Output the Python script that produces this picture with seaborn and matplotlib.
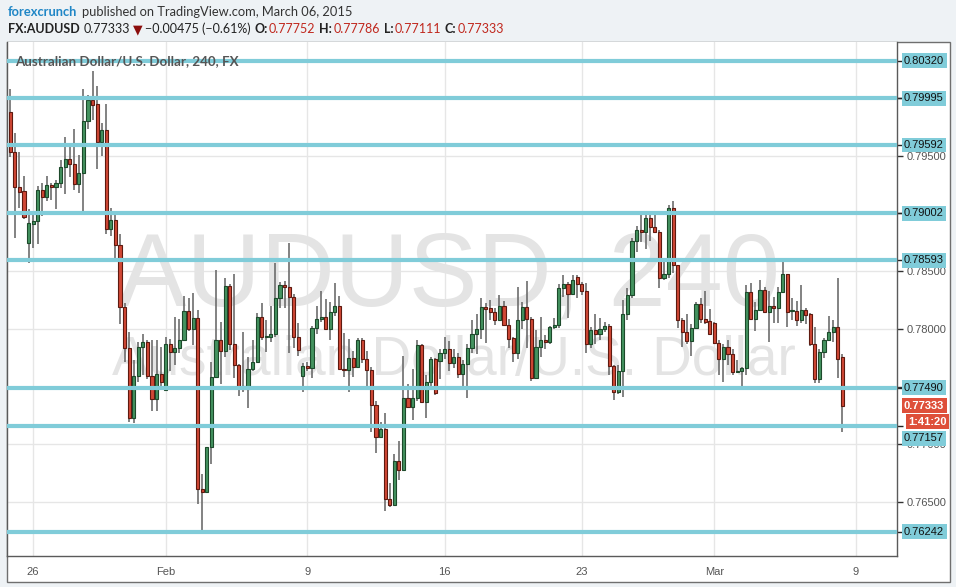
import matplotlib
matplotlib.use("Agg")
import numpy as np
import pandas as pd
import seaborn as sns
import matplotlib.pyplot as plt
from matplotlib.patches import Rectangle
from matplotlib.transforms import blended_transform_factory

# AUDUSD 4h candles, 23 Jan - 6 Mar 2015
opens = [
    0.79879, 0.79532, 0.79229, 0.79194, 0.78744, 0.78908, 0.78934, 0.79203, 0.79142, 0.79247,
    0.79229, 0.79264, 0.79402, 0.79471, 0.79428, 0.79255, 0.79350, 0.79800, 0.79982, 0.79947,
    0.79619, 0.79723, 0.78865, 0.78943, 0.78727, 0.78190, 0.77835, 0.77230, 0.77593, 0.77843,
    0.77887, 0.77593, 0.77394, 0.77610, 0.77472, 0.77869, 0.77801, 0.77835, 0.77904, 0.78155,
    0.78000, 0.78095, 0.76615, 0.76589, 0.76978, 0.77584, 0.77904, 0.77809, 0.78372, 0.77869,
    0.77688, 0.77506, 0.77480, 0.77653, 0.77714, 0.78103, 0.77930, 0.77930, 0.77956, 0.78268,
    0.78381, 0.78363, 0.78276, 0.77930, 0.77593, 0.77679, 0.77662, 0.78009, 0.78086, 0.78103,
    0.78000, 0.78147, 0.78199, 0.77653, 0.77645, 0.77749, 0.77670, 0.77904, 0.77740, 0.77645,
    0.77342, 0.77064, 0.77134, 0.76528, 0.76476, 0.76857, 0.76779, 0.77403, 0.77324, 0.77403,
    0.77861, 0.77368, 0.77541, 0.77740, 0.77722, 0.77792, 0.77826, 0.77705, 0.77757, 0.77610,
    0.77696, 0.77835, 0.77956, 0.78000, 0.78190, 0.78182, 0.78147, 0.78078, 0.78199, 0.78035,
    0.77922, 0.77792, 0.78078, 0.78190, 0.78086, 0.77576, 0.77843, 0.77904, 0.77887, 0.78017,
    0.78035, 0.78355, 0.78389, 0.78302, 0.78449, 0.78389, 0.78328, 0.77869, 0.77991, 0.77956,
    0.78000, 0.78026, 0.77679, 0.77455, 0.77636, 0.78129, 0.78294, 0.78761, 0.78857, 0.78839,
    0.78961, 0.78882, 0.78839, 0.78441, 0.78475, 0.79047, 0.78554, 0.78078, 0.77974, 0.77895,
    0.78009, 0.78216, 0.78086, 0.78069, 0.78052, 0.77878, 0.77740, 0.77843, 0.77783, 0.77628,
    0.77636, 0.77662, 0.78320, 0.78086, 0.78164, 0.78337, 0.78147, 0.78199, 0.78182, 0.78320,
    0.78475, 0.78155, 0.78155, 0.78078, 0.78164, 0.78129, 0.77869, 0.77567, 0.77801, 0.77904,
    0.77974, 0.78017, 0.77752,
]
highs = [
    0.80078, 0.79697, 0.79532, 0.79324, 0.79038, 0.79021, 0.79238, 0.79264, 0.79324, 0.79264,
    0.79290, 0.79463, 0.79662, 0.79593, 0.79731, 0.79506, 0.80078, 0.80026, 0.80233, 0.80103,
    0.79783, 0.79947, 0.79047, 0.79013, 0.78822, 0.78225, 0.77974, 0.77731, 0.77887, 0.77956,
    0.77904, 0.77904, 0.77904, 0.77843, 0.77930, 0.77913, 0.78103, 0.78086, 0.78285, 0.78268,
    0.78311, 0.78164, 0.76744, 0.76978, 0.77714, 0.78510, 0.78061, 0.78441, 0.78389, 0.78475,
    0.77696, 0.77974, 0.77757, 0.77904, 0.78138, 0.78225, 0.78078, 0.78199, 0.78571, 0.78407,
    0.78415, 0.78744, 0.78302, 0.78052, 0.77705, 0.77714, 0.78026, 0.78199, 0.78328, 0.78259,
    0.78234, 0.78398, 0.78285, 0.77965, 0.77913, 0.77809, 0.77922, 0.77922, 0.77809, 0.77670,
    0.77376, 0.77195, 0.77273, 0.76667, 0.76917, 0.77030, 0.77766, 0.77523, 0.77653, 0.77904,
    0.77869, 0.77602, 0.77757, 0.77749, 0.77826, 0.77930, 0.77895, 0.77826, 0.77792, 0.77731,
    0.77869, 0.78078, 0.78129, 0.78268, 0.78225, 0.78251, 0.78182, 0.78294, 0.78242, 0.78086,
    0.77930, 0.78363, 0.78234, 0.78415, 0.78103, 0.77991, 0.78103, 0.77948, 0.78026, 0.78095,
    0.78389, 0.78467, 0.78407, 0.78467, 0.78467, 0.78407, 0.78398, 0.78017, 0.78129, 0.78095,
    0.78061, 0.78043, 0.77688, 0.77688, 0.78251, 0.78355, 0.78787, 0.78891, 0.78995, 0.78995,
    0.78995, 0.78987, 0.78857, 0.78588, 0.79073, 0.79107, 0.78554, 0.78095, 0.78129, 0.78043,
    0.78234, 0.78268, 0.78328, 0.78173, 0.78061, 0.77904, 0.77869, 0.77904, 0.77826, 0.77731,
    0.77670, 0.78381, 0.78398, 0.78234, 0.78424, 0.78363, 0.78328, 0.78276, 0.78363, 0.78588,
    0.78475, 0.78268, 0.78242, 0.78381, 0.78182, 0.78138, 0.78017, 0.77826, 0.77922, 0.78112,
    0.78078, 0.78441, 0.77786,
]
lows = [
    0.79488, 0.78787, 0.79047, 0.78952, 0.78571, 0.78701, 0.78735, 0.78978, 0.79107, 0.79116,
    0.79038, 0.79221, 0.79168, 0.79315, 0.79203, 0.79177, 0.78987, 0.79731, 0.79809, 0.79385,
    0.79497, 0.78822, 0.78805, 0.78580, 0.78043, 0.77714, 0.77195, 0.77186, 0.77541, 0.77602,
    0.77567, 0.77290, 0.77290, 0.77497, 0.77472, 0.77636, 0.77688, 0.77792, 0.77896, 0.77982,
    0.77861, 0.76484, 0.76243, 0.76589, 0.76831, 0.77576, 0.77523, 0.77757, 0.77818, 0.77576,
    0.77420, 0.77455, 0.77316, 0.77636, 0.77714, 0.77904, 0.77801, 0.77887, 0.77930, 0.78182,
    0.78182, 0.77792, 0.77835, 0.77766, 0.77455, 0.77636, 0.77576, 0.77956, 0.78061, 0.78000,
    0.77904, 0.78112, 0.77653, 0.77584, 0.77455, 0.77584, 0.77670, 0.77705, 0.77497, 0.77108,
    0.76926, 0.77064, 0.76424, 0.76458, 0.76476, 0.76693, 0.76779, 0.77316, 0.77212, 0.77376,
    0.77368, 0.77230, 0.77506, 0.77429, 0.77567, 0.77740, 0.77636, 0.77662, 0.77576, 0.77489,
    0.77403, 0.77792, 0.77783, 0.77913, 0.77878, 0.78078, 0.78035, 0.78078, 0.78035, 0.77835,
    0.77714, 0.77740, 0.78000, 0.77835, 0.77549, 0.77567, 0.77757, 0.77826, 0.77869, 0.78000,
    0.78009, 0.78276, 0.78095, 0.78302, 0.78268, 0.78294, 0.77792, 0.77835, 0.77869, 0.77904,
    0.77974, 0.77602, 0.77385, 0.77437, 0.77411, 0.78078, 0.78268, 0.78667, 0.78753, 0.78692,
    0.78761, 0.78831, 0.78355, 0.78424, 0.78441, 0.78484, 0.78009, 0.77843, 0.77869, 0.77766,
    0.78000, 0.78052, 0.78043, 0.77948, 0.77869, 0.77602, 0.77541, 0.77688, 0.77602, 0.77619,
    0.77489, 0.77602, 0.78078, 0.77982, 0.78155, 0.78138, 0.77887, 0.78052, 0.78052, 0.78311,
    0.78017, 0.78078, 0.78026, 0.78052, 0.78043, 0.77852, 0.77532, 0.77532, 0.77749, 0.77895,
    0.77887, 0.77576, 0.77111,
]
closes = [
    0.79532, 0.79229, 0.79186, 0.78969, 0.78917, 0.78934, 0.79203, 0.79142, 0.79247, 0.79229,
    0.79264, 0.79402, 0.79471, 0.79428, 0.79255, 0.79350, 0.79800, 0.79982, 0.79939, 0.79619,
    0.79723, 0.78865, 0.78943, 0.78727, 0.78190, 0.77835, 0.77230, 0.77593, 0.77843, 0.77887,
    0.77593, 0.77394, 0.77610, 0.77541, 0.77869, 0.77801, 0.77835, 0.77904, 0.78155, 0.78000,
    0.78095, 0.76615, 0.76589, 0.76978, 0.77584, 0.77904, 0.77809, 0.78372, 0.77869, 0.77688,
    0.77497, 0.77480, 0.77653, 0.77714, 0.78103, 0.77930, 0.77939, 0.77956, 0.78268, 0.78381,
    0.78363, 0.78276, 0.77930, 0.77818, 0.77679, 0.77662, 0.78009, 0.78086, 0.78103, 0.78000,
    0.78147, 0.78199, 0.77653, 0.77645, 0.77749, 0.77670, 0.77904, 0.77740, 0.77645, 0.77342,
    0.77064, 0.77134, 0.76528, 0.76476, 0.76857, 0.76779, 0.77403, 0.77324, 0.77403, 0.77861,
    0.77368, 0.77541, 0.77740, 0.77446, 0.77792, 0.77826, 0.77705, 0.77757, 0.77610, 0.77696,
    0.77835, 0.77956, 0.78000, 0.78190, 0.78173, 0.78147, 0.78078, 0.78199, 0.78035, 0.77913,
    0.77792, 0.78078, 0.78190, 0.78086, 0.77576, 0.77843, 0.77904, 0.77887, 0.78017, 0.78035,
    0.78355, 0.78389, 0.78302, 0.78424, 0.78389, 0.78328, 0.77869, 0.77991, 0.77956, 0.78000,
    0.78026, 0.77679, 0.77455, 0.77636, 0.78129, 0.78294, 0.78761, 0.78857, 0.78839, 0.78961,
    0.78882, 0.78839, 0.78441, 0.78475, 0.79047, 0.78554, 0.78078, 0.77974, 0.77895, 0.78009,
    0.78216, 0.78086, 0.78061, 0.77956, 0.77878, 0.77740, 0.77843, 0.77783, 0.77628, 0.77636,
    0.77662, 0.78320, 0.78086, 0.78164, 0.78337, 0.78147, 0.78199, 0.78182, 0.78320, 0.78475,
    0.78147, 0.78164, 0.78078, 0.78164, 0.78121, 0.77869, 0.77567, 0.77801, 0.77904, 0.77974,
    0.78017, 0.77740, 0.77333,
]

# support / resistance lines and their labels
levels = [0.80320, 0.79995, 0.79592, 0.79002, 0.78593, 0.77490, 0.77157, 0.76242]
level_labels = ["0.80320", "0.79995", "0.79592", "0.79002", "0.78593", "0.77490", "0.77157", "0.76242"]

price_ticks = [0.765, 0.770, 0.775, 0.780, 0.785, 0.790, 0.795, 0.800]
# labels hidden behind the level boxes are left blank
price_tick_labels = ["0.76500", "0.77000", "", "0.78000", "0.78500", "", "0.79500", ""]
date_pos = [5, 34, 65, 95, 125, 154, 185]
date_labels = ["26", "Feb", "9", "16", "23", "Mar", "9"]

last_price = 0.77333
countdown = "1:41:20"

UP, DOWN = "#44935f", "#d14836"
UP_EDGE, DOWN_EDGE = "#1d4a2b", "#5e1a10"
LEVEL_C = "#80ccd9"
W, H = 956, 587

sns.set_style("white")
plt.rcParams["font.family"] = ["Liberation Sans", "DejaVu Sans"]

df = pd.DataFrame({"open": opens, "high": highs, "low": lows, "close": closes})
df["x"] = np.arange(len(df))
df["up"] = df["close"] >= df["open"]
df["bottom"] = df[["open", "close"]].min(axis=1)
df["body"] = (df["close"] - df["open"]).abs().clip(lower=0.00003)

fig = plt.figure(figsize=(W / 100, H / 100), dpi=100, facecolor="#eef2f5")
fig.patches.append(Rectangle((7 / W, 5 / H), 943 / W, 540 / H, transform=fig.transFigure,
                             facecolor="white", edgecolor="#6f6f6f", lw=1, zorder=-1))
ax = fig.add_axes([7 / W, 31 / H, 890 / W, 514 / H])
ax.set_facecolor("white")
ax.set_axisbelow(True)

# watermark
ax.text(0.497, 0.488, "AUDUSD, 240", transform=ax.transAxes, ha="center", va="baseline",
        fontsize=74, color="#e4e4e4", zorder=0.6)
ax.text(0.502, 0.352, "Australian Dollar/U.S. Dollar", transform=ax.transAxes, ha="center",
        va="baseline", fontsize=39.5, color="#e4e4e4", zorder=0.6)

# candles
ax.vlines(df["x"], df["low"], df["high"], color="#6d6d6d", lw=1.2, zorder=2)
ax.bar(df["x"], df["body"], bottom=df["bottom"], width=0.68,
       color=np.where(df["up"], UP, DOWN), edgecolor=np.where(df["up"], UP_EDGE, DOWN_EDGE),
       linewidth=0.8, zorder=3)

for lvl in levels:
    ax.axhline(lvl, color=LEVEL_C, lw=3, zorder=4)

ax.set_xlim(-0.72, 193.98)
ax.set_ylim(0.76033, 0.80484)
ax.set_yticks(price_ticks)
ax.set_yticklabels(price_tick_labels)
ax.set_xticks(date_pos)
ax.set_xticklabels(date_labels)
ax.yaxis.tick_right()
ax.grid(True, color="#e6e6e6", lw=1)
ax.tick_params(axis="y", length=4, width=1, color="#333", labelsize=8, labelcolor="#555", pad=3)
ax.tick_params(axis="x", length=3, width=1, color="#333", labelsize=8, labelcolor="#555", pad=5)
ax.set_yticks(levels, minor=True)
ax.tick_params(axis="y", which="minor", length=4, width=1, color="#222", right=True, left=False)
for side in ["left", "right", "bottom"]:
    ax.spines[side].set_color("#5a5a5a")
    ax.spines[side].set_linewidth(1)
ax.spines["top"].set_visible(False)

# right-hand labels
trans = blended_transform_factory(ax.transAxes, ax.transData)
for lvl, lab in zip(levels, level_labels):
    dy = -12 if lab == "0.77157" else 0
    ax.annotate(lab, xy=(1, lvl), xycoords=trans, xytext=(7, dy), textcoords="offset pixels",
                ha="left", va="center", fontsize=8, color="#111", annotation_clip=False,
                bbox=dict(boxstyle="square,pad=0.22", fc=LEVEL_C, ec="none"), zorder=5)
ax.annotate(f"{last_price:.5f}", xy=(1, last_price), xycoords=trans, xytext=(7, 0),
            textcoords="offset pixels", ha="left", va="center", fontsize=8, color="white",
            fontweight="bold", annotation_clip=False,
            bbox=dict(boxstyle="square,pad=0.22", fc="#de4f3a", ec="none"), zorder=6)
ax.annotate(countdown, xy=(1, last_price), xycoords=trans, xytext=(11, -16),
            textcoords="offset pixels", ha="left", va="center", fontsize=8, color="white",
            fontweight="bold", annotation_clip=False,
            bbox=dict(boxstyle="square,pad=0.22", fc="#de4f3a", ec="none"), zorder=6)

ax.text(8 / 890, (556 - 61) / 514, "Australian Dollar/U.S. Dollar, 240, FX", transform=ax.transAxes,
        ha="left", va="center", fontsize=9.6, fontweight="bold", color="#555",
        family=["Lato", "DejaVu Sans"], zorder=7)

# header lines
renderer = fig.canvas.get_renderer()


def text_run(x_px, y_px, pieces, size):
    for s, color, weight, gap in pieces:
        t = fig.text(x_px / W, 1 - y_px / H, s, color=color, fontweight=weight, fontsize=size,
                     ha="left", va="center", family=["Lato", "DejaVu Sans"])
        x_px += t.get_window_extent(renderer).width + gap


text_run(8, 12, [("forexcrunch", "#1f86c6", "bold", 5),
                 ("published on TradingView.com, March 06, 2015", "#333", "normal", 0)], 9.3)
red = "#c0281e"
text_run(8, 29, [("FX:AUDUSD", "#222", "bold", 4), ("0.77333", "#222", "normal", 3),
                 ("\u25bc", "#8b0d0d", "normal", 2), ("\u22120.00475 (\u22120.61%)", "#222", "normal", 4),
                 ("O:", "#222", "bold", 1), ("0.77752", red, "normal", 4),
                 ("H:", "#222", "bold", 1), ("0.77786", red, "normal", 4),
                 ("L:", "#222", "bold", 1), ("0.77111", red, "normal", 4),
                 ("C:", "#222", "bold", 1), ("0.77333", red, "normal", 0)], 9.0)

fig.savefig("out.png", dpi=100, facecolor=fig.get_facecolor())
